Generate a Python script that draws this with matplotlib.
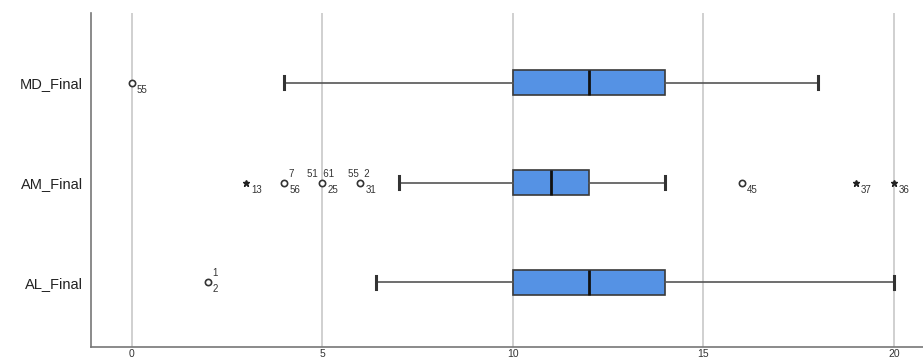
import numpy as np
import matplotlib
matplotlib.use('Agg')
import matplotlib.pyplot as plt

# 数据
names = ['AL_Final', 'AM_Final', 'MD_Final']
q1 = [10, 10, 10]
med = [12, 11, 12]
q3 = [14, 12, 14]
whis_lo = [6.4, 7, 4]
whis_hi = [20, 14, 18]

# 离群点: (变量序号, 值, 标记, 上方标签, 下方标签)
out_var = [0, 1, 1, 1, 1, 1, 1, 1, 2]
out_val = [2, 3, 4, 5, 6, 16, 19, 20, 0]
out_mark = ['o', '*', 'o', 'o', 'o', 'o', '*', '*', 'o']
out_top = ['1', '', '7', '51  61', '55  2', '', '', '', '']
out_bot = ['2', '13', '56', '25', '31', '45', '37', '36', '55']

plt.rcParams['font.family'] = ['Liberation Sans', 'DejaVu Sans']

fig = plt.figure(figsize=(9.23, 3.58), dpi=100)
ax = fig.add_axes([0.0986, 0.030, 0.9014, 0.9337])

stats = []
for i in range(len(names)):
    stats.append(dict(med=med[i], q1=q1[i], q3=q3[i], whislo=whis_lo[i],
                      whishi=whis_hi[i], fliers=[], label=names[i]))

pos = np.arange(1, len(names) + 1)
ax.bxp(stats, positions=pos, vert=False, widths=0.25, patch_artist=True,
       showfliers=False,
       boxprops=dict(facecolor='#5592e4', edgecolor='#3a3a3a', linewidth=1.2),
       medianprops=dict(color='#111111', linewidth=2),
       whiskerprops=dict(color='#555555', linewidth=1.2),
       capprops=dict(color='#333333', linewidth=2.2),
       capwidths=0.13, zorder=3)

# 离群点和标签
for v, x, m, t, b in zip(out_var, out_val, out_mark, out_top, out_bot):
    y = pos[v]
    if m == 'o':
        ax.plot(x, y, 'o', ms=4.5, mfc='white', mec='#333333', mew=1.2, zorder=4)
    else:
        ax.plot(x, y, '*', ms=4.5, color='#222222', zorder=4)
    if b:
        ax.annotate(b, (x, y), xytext=(5, -7), textcoords='offset pixels',
                    fontsize=7, color='#333333', ha='left', va='center')
    if t:
        if ' ' in t:
            ax.annotate(t, (x, y), xytext=(-2, 9), textcoords='offset pixels',
                        fontsize=7, color='#333333', ha='center', va='center')
        else:
            ax.annotate(t, (x, y), xytext=(4, 9), textcoords='offset pixels',
                        fontsize=7, color='#333333', ha='left', va='center')

ax.set_xlim(-1.07, 20.76)
ax.set_ylim(0.35, 3.70)
ax.set_xticks([0, 5, 10, 15, 20])
ax.set_yticks(pos)
ax.set_yticklabels(names, fontsize=10.5, color='#222222')
ax.tick_params(axis='x', labelsize=7.5, length=0, pad=1, colors='#333333')
ax.tick_params(axis='y', length=0, pad=6)
ax.grid(axis='x', color='#c8c8c8', linewidth=1.2, zorder=0)
ax.set_axisbelow(True)
for s in ['top', 'right']:
    ax.spines[s].set_visible(False)
for s in ['left', 'bottom']:
    ax.spines[s].set_color('#777777')
    ax.spines[s].set_linewidth(1.2)

plt.savefig('out.png', dpi=100)
